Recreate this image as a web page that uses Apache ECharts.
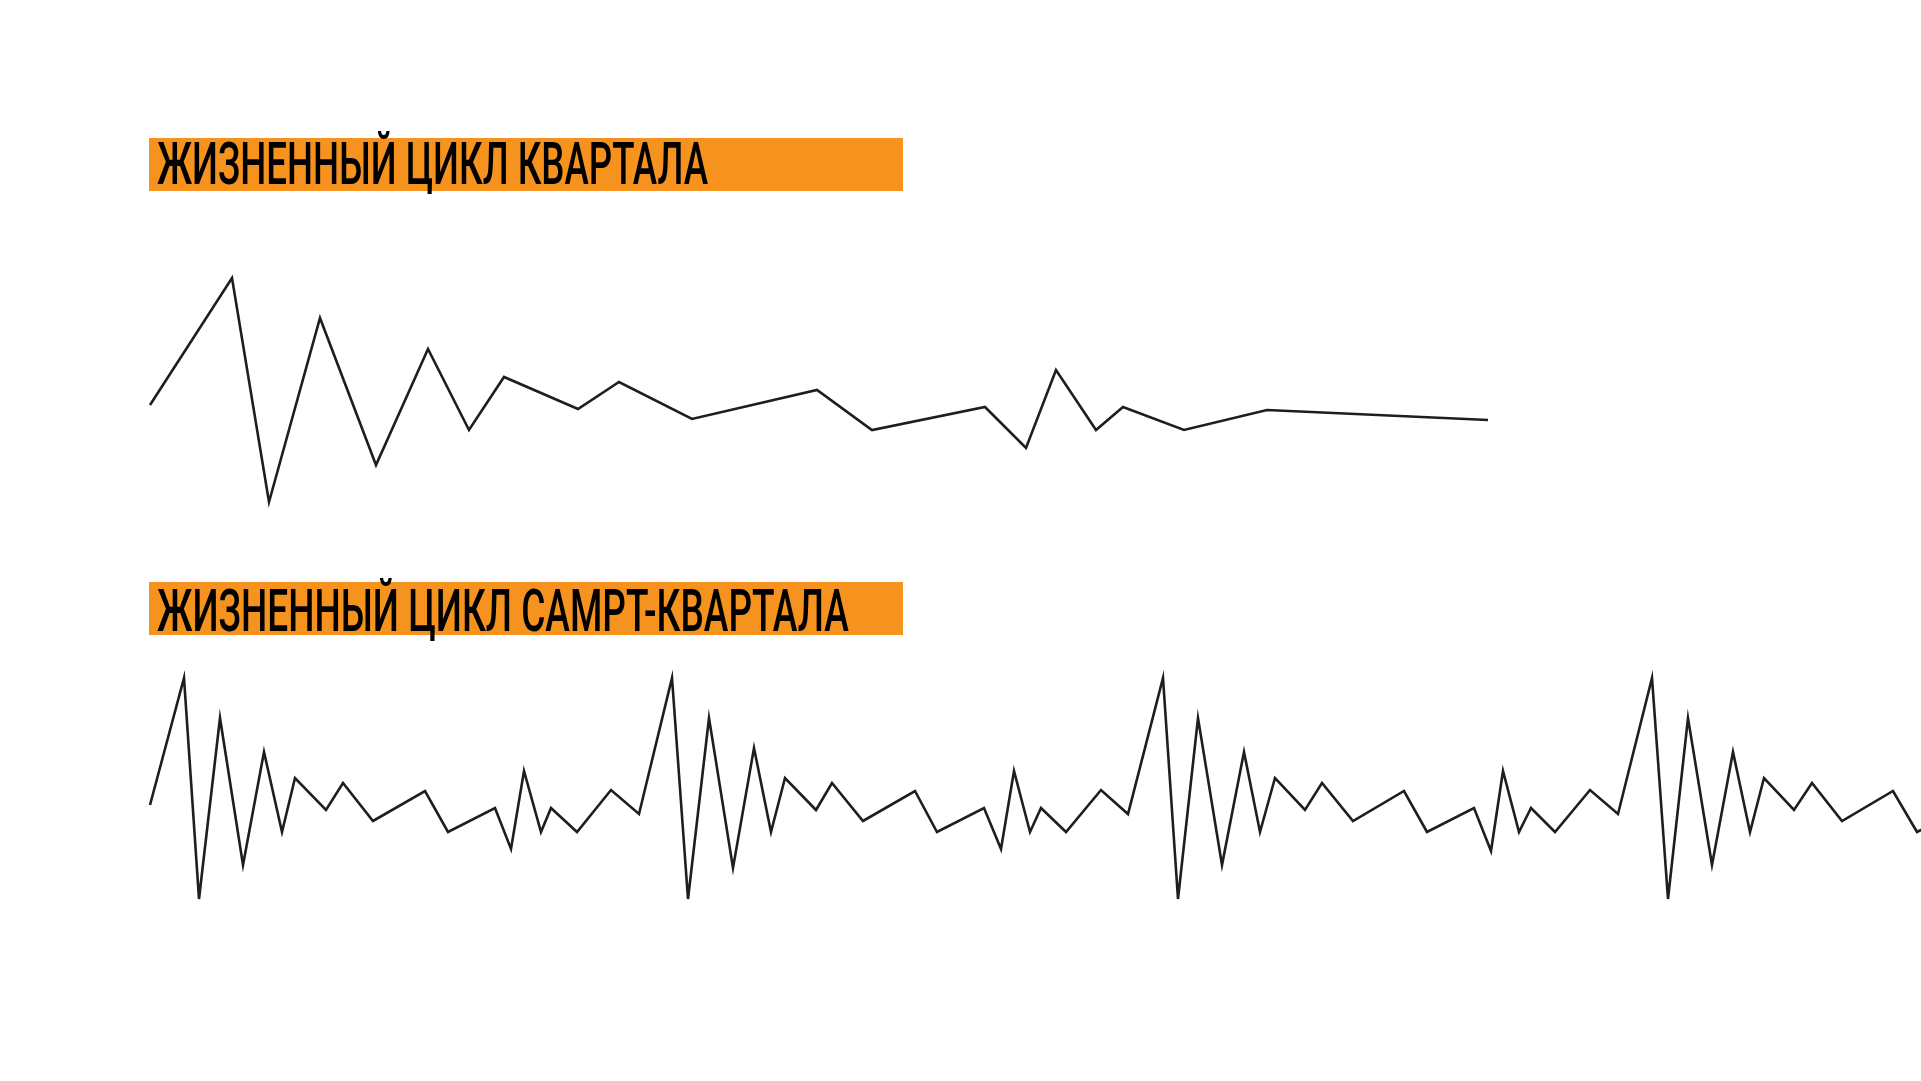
<!DOCTYPE html>
<html>
<head>
<meta charset="utf-8">
<script src="https://cdn.jsdelivr.net/npm/echarts@6/dist/echarts.min.js"></script>
<style>
html,body{margin:0;padding:0;background:#fff;}
#c{width:1921px;height:1081px;}
</style>
</head>
<body>
<div id="c"></div>
<script>
// Titles
const titleTop = 'ЖИЗНЕННЫЙ ЦИКЛ КВАРТАЛА';
const titleBottom = 'ЖИЗНЕННЫЙ ЦИКЛ САМРТ-КВАРТАЛА';

// Ordinary quarter life cycle: time (x) and value (y)
const quarterT = [0, 8.2, 11.9, 17.0, 22.6, 27.8, 31.9, 35.4, 42.8, 46.9, 54.2, 66.7, 72.2, 83.5, 87.6, 90.6, 94.6, 97.3, 103.4, 111.7, 133.8];
const quarterV = [10.5, 23.2, 0.8, 19.2, 4.5, 16.1, 8.0, 13.3, 10.1, 12.8, 9.1, 12.0, 8.0, 10.3, 6.2, 14.0, 8.0, 10.3, 8.0, 10.0, 9.0];

// Smart quarter life cycle: time (x) and value (y)
const smartT = [
  0, 3.4, 4.9, 7.0, 9.3, 11.4, 13.2, 14.5, 17.6, 19.3, 22.3, 27.5, 29.8, 34.5, 36.1, 37.4, 39.1, 40.1, 42.7, 46.1, 48.9,
  52.2, 53.8, 55.9, 58.3, 60.4, 62.1, 63.5, 66.6, 68.2, 71.3, 76.5, 78.7, 83.4, 85.1, 86.4, 88.0, 89.1, 91.6, 95.1, 97.8,
  101.3, 102.8, 104.8, 107.2, 109.4, 111.0, 112.5, 115.5, 117.2, 120.3, 125.4, 127.7, 132.4, 134.1, 135.3, 136.9, 138.1, 140.5, 144.0, 146.8,
  150.2, 151.8, 153.8, 156.2, 158.3, 160.0, 161.4, 164.4, 166.2, 169.2, 174.3, 176.7, 181.4
];
const smartV = [
  10.5, 23.2, 1.1, 19.2, 4.5, 15.8, 7.8, 13.2, 10.0, 12.7, 8.9, 11.9, 7.8, 10.2, 6.1, 13.9, 7.8, 10.2, 7.8, 12.0, 9.6,
  23.2, 1.1, 19.2, 4.2, 16.2, 7.8, 13.2, 10.0, 12.7, 8.9, 11.9, 7.8, 10.2, 6.1, 13.9, 7.8, 10.2, 7.8, 12.0, 9.6,
  23.2, 1.1, 19.2, 4.5, 15.8, 7.8, 13.2, 10.0, 12.7, 8.9, 11.9, 7.8, 10.2, 5.9, 13.9, 7.8, 10.2, 7.8, 12.0, 9.6,
  23.2, 1.1, 19.2, 4.5, 15.8, 7.8, 13.2, 10.0, 12.7, 8.9, 11.9, 7.8, 10.2
];

const pair = (xs, ys) => xs.map((x, i) => [x, ys[i]]);

const chart = echarts.init(document.getElementById('c'), null, {renderer: 'canvas'});

const hiddenX = (idx) => ({
  type: 'value', gridIndex: idx, min: 0, max: 177.1,
  axisLine: {show: false}, axisTick: {show: false}, axisLabel: {show: false}, splitLine: {show: false}
});
const hiddenY = (idx) => ({
  type: 'value', gridIndex: idx, min: 0, max: 25,
  axisLine: {show: false}, axisTick: {show: false}, axisLabel: {show: false}, splitLine: {show: false}
});

const orange = '#F6921E';
const lineColor = '#1e1e1e';

function titleGroup(text, top, textY, scale) {
  return {
    type: 'group',
    children: [
      {type: 'rect', shape: {x: 149, y: top, width: 754, height: 53}, style: {fill: orange}},
      {
        type: 'text', x: 157, y: textY, scaleX: scale,
        style: {
          text: text, fill: '#000', font: '500 60px Roboto',
          align: 'left', verticalAlign: 'alphabetic'
        }
      }
    ]
  };
}

chart.setOption({
  animation: false,
  backgroundColor: '#fff',
  grid: [
    {left: 150, top: 260, width: 1771, height: 250},
    {left: 150, top: 660, width: 1771, height: 250}
  ],
  xAxis: [hiddenX(0), hiddenX(1)],
  yAxis: [hiddenY(0), hiddenY(1)],
  series: [
    {
      type: 'line', xAxisIndex: 0, yAxisIndex: 0, data: pair(quarterT, quarterV),
      showSymbol: false, symbol: 'none', lineStyle: {color: lineColor, width: 2.6, join: 'miter'}, clip: true
    },
    {
      type: 'line', xAxisIndex: 1, yAxisIndex: 1, data: pair(smartT, smartV),
      showSymbol: false, symbol: 'none', lineStyle: {color: lineColor, width: 2.6, join: 'miter'}, clip: true
    }
  ],
  graphic: [
    titleGroup(titleTop, 138, 139, 0.611),
    titleGroup(titleBottom, 582, 586, 0.617)
  ]
});
</script>
</body>
</html>
